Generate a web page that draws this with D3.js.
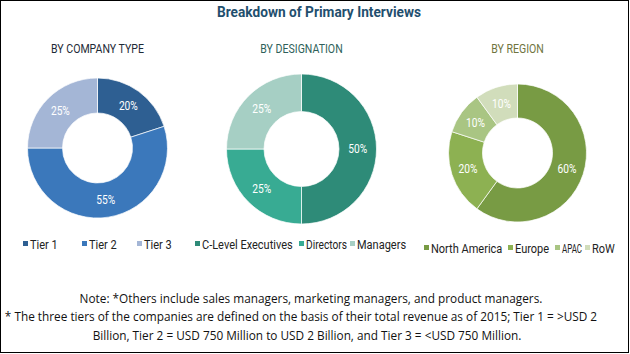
<!DOCTYPE html>
<html>
<head>
<meta charset="utf-8">
<script src="https://cdn.jsdelivr.net/npm/d3@7"></script>
<style>
  body { margin: 0; background: #fff; }
  svg { display: block; }
  .narrow { font-family: "Roboto", "Noto Sans", sans-serif; }
  .note { font-family: "Open Sans", "Liberation Sans", sans-serif; font-size: 11.8px; fill: #111; }
</style>
</head>
<body>
<svg id="chart" width="630" height="354"></svg>
<script>
"use strict";

var companyTypes = ["Tier 1", "Tier 2", "Tier 3"]
var companyShares = [20, 55, 25]

var designations = ["C-Level Executives", "Directors", "Managers"]
var designationShares = [50, 25, 25]

var regions = ["North America", "Europe", "APAC", "RoW"]
var regionShares = [60, 20, 10, 10]

var noteLines = [
    "Note: *Others include sales managers, marketing managers, and product managers.",
    "* The three tiers of the companies are defined on the basis of their total revenue as of 2015; Tier 1 = >USD 2",
    "Billion, Tier 2 = USD 750 Million to USD 2 Billion, and Tier 3 = <USD 750 Million."
]

var panels = [
    { title: "BY COMPANY TYPE", titleColor: "#1e2a36", cx: 97.5, cy: 148, r: 70, r0: 35,
      names: companyTypes, values: companyShares,
      colors: ["#2e5f92", "#3b78bb", "#a4b6d6"],
      legendY: 244, legendX: [23, 82, 137], legendEnd: 172 },
    { title: "BY DESIGNATION", titleColor: "#2f5f5a", cx: 301.5, cy: 149, r: 75, r0: 37.5,
      names: designations, values: designationShares,
      colors: ["#2e8b78", "#38ab93", "#a6cfc4"],
      legendY: 244, legendX: [195, 299, 350], legendEnd: 412 },
    { title: "BY REGION", titleColor: "#6f7440", cx: 517.5, cy: 153, r: 69, r0: 35,
      names: regions, values: regionShares,
      colors: ["#789b44", "#8db152", "#a9c583", "#d1ddbb"],
      legendY: 248, legendX: [424, 508, 555, 585], legendEnd: 619 }
]

// squeeze a text horizontally to mimic the condensed face of the original
function condense(sel, k, maxW) {
    sel.each(function (d, i) {
        var w = this.getComputedTextLength() * k
        if (maxW) w = Math.min(w, maxW(d, i))
        d3.select(this).attr("textLength", w).attr("lengthAdjust", "spacingAndGlyphs")
    })
}

var svg = d3.select("#chart")

svg.append("rect")
    .attr("x", 0.5).attr("y", 0.5)
    .attr("width", 628).attr("height", 352)
    .attr("fill", "none").attr("stroke", "#000").attr("stroke-width", 1)

svg.append("text")
    .attr("class", "narrow")
    .attr("x", 319).attr("y", 17)
    .attr("text-anchor", "middle")
    .attr("font-size", 15).attr("font-weight", "bold")
    .attr("fill", "#1f4f6e")
    .attr("textLength", 204).attr("lengthAdjust", "spacingAndGlyphs")
    .text("Breakdown of Primary Interviews")

var pie = d3.pie().sort(null).value(d => d.value)

panels.forEach(p => {
    var data = p.names.map((n, i) => ({ name: n, value: p.values[i] }))
    var color = d3.scaleOrdinal().domain(p.names).range(p.colors)
    var arc = d3.arc().innerRadius(p.r0).outerRadius(p.r)
    var labelArc = d3.arc().innerRadius((p.r + p.r0) / 2).outerRadius((p.r + p.r0) / 2)

    svg.append("text")
        .attr("class", "narrow")
        .attr("x", p.cx).attr("y", 53)
        .attr("text-anchor", "middle")
        .attr("font-size", 12)
        .attr("fill", p.titleColor)
        .text(p.title)
        .call(condense, 0.88)

    var g = svg.append("g").attr("transform", "translate(" + p.cx + "," + p.cy + ")")

    g.selectAll("path")
        .data(pie(data))
        .enter().append("path")
        .attr("d", arc)
        .attr("fill", d => color(d.data.name))
        .attr("stroke", "#fff").attr("stroke-width", 0.7)

    g.selectAll("text")
        .data(pie(data))
        .enter().append("text")
        .attr("class", "narrow")
        .attr("transform", d => "translate(" + labelArc.centroid(d) + ")")
        .attr("text-anchor", "middle")
        .attr("dy", "0.35em")
        .attr("font-size", 12)
        .attr("fill", "#fff")
        .text(d => d.data.value + "%")
        .call(condense, 0.85)

    var leg = svg.append("g")
    var items = leg.selectAll("g")
        .data(data)
        .enter().append("g")
        .attr("transform", (d, i) => "translate(" + p.legendX[i] + "," + p.legendY + ")")
    items.append("rect")
        .attr("x", 0).attr("y", -3)
        .attr("width", 5).attr("height", 5)
        .attr("fill", d => color(d.name))
    items.append("text")
        .attr("class", "narrow")
        .attr("x", 7).attr("y", 0)
        .attr("dy", "0.38em")
        .attr("font-size", 12.5)
        .attr("fill", "#222")
        .text(d => d.name)
        .call(condense, 0.88, (d, i) => {
            var next = i + 1 < p.legendX.length ? p.legendX[i + 1] - 3 : p.legendEnd
            return next - (p.legendX[i] + 7)
        })
})

svg.selectAll(".note")
    .data(noteLines)
    .enter().append("text")
    .attr("class", "note")
    .attr("x", (d, i) => [311, 301, 307][i])
    .attr("y", (d, i) => [303, 321, 340][i])
    .attr("text-anchor", "middle")
    .text(d => d)
</script>
</body>
</html>
